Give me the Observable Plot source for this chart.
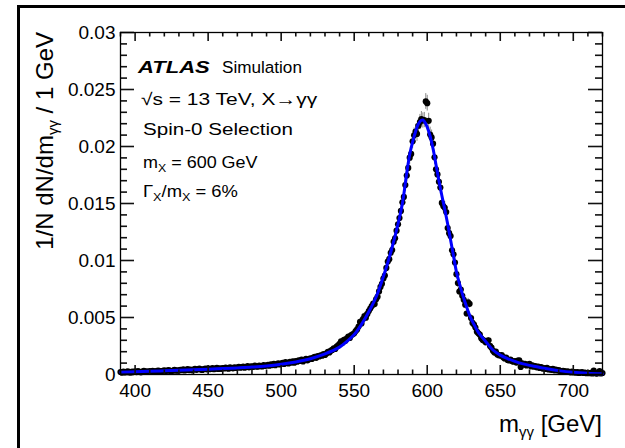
<!DOCTYPE html>
<html><head><meta charset="utf-8">
<script src="https://cdn.jsdelivr.net/npm/d3@7"></script>
<script src="https://cdn.jsdelivr.net/npm/@observablehq/plot@0.6"></script>
<style>
html,body{margin:0;padding:0;background:#fff;overflow:hidden;width:625px;height:448px}
#wrap{position:relative;width:625px;height:448px;overflow:hidden}
#frame{position:absolute;left:17px;top:5px;width:700px;height:600px;border:3px solid #000;box-sizing:border-box;pointer-events:none}
</style></head><body><div id="wrap"><div id="frame"></div></div>
<script>
// ---- data: normalised MC histogram, 1 GeV bins starting at 390 GeV ----
const binStart = 390;
const binValues = [
0.00022,0.00017,0.00025,0.00019,0.00023,0.00028,0.00020,0.00018,0.00026,0.00022,
0.00027,0.00021,0.00030,0.00024,0.00019,0.00026,0.00031,0.00023,0.00028,0.00022,
0.00030,0.00026,0.00033,0.00027,0.00024,0.00031,0.00035,0.00028,0.00025,0.00032,
0.00036,0.00030,0.00034,0.00039,0.00031,0.00028,0.00035,0.00040,0.00033,0.00036,
0.00034,0.00041,0.00038,0.00045,0.00036,0.00040,0.00047,0.00039,0.00042,0.00037,
0.00044,0.00049,0.00041,0.00046,0.00052,0.00043,0.00040,0.00048,0.00051,0.00045,
0.00053,0.00047,0.00050,0.00056,0.00046,0.00051,0.00058,0.00049,0.00054,0.00050,
0.00057,0.00053,0.00060,0.00055,0.00051,0.00062,0.00057,0.00054,0.00063,0.00058,
0.00061,0.00068,0.00059,0.00064,0.00070,0.00060,0.00066,0.00073,0.00063,0.00069,
0.00072,0.00066,0.00077,0.00070,0.00068,0.00079,0.00074,0.00071,0.00082,0.00076,
0.00079,0.00085,0.00077,0.00089,0.00083,0.00094,0.00081,0.00092,0.00098,0.00088,
0.00096,0.00103,0.00093,0.00108,0.00101,0.00097,0.00112,0.00105,0.00116,0.00103,
0.00118,0.00112,0.00125,0.00119,0.00131,0.00115,0.00127,0.00138,0.00124,0.00133,
0.00141,0.00136,0.00149,0.00155,0.00146,0.00162,0.00158,0.00169,0.00165,0.00178,
0.00172,0.00185,0.00198,0.00193,0.00209,0.00216,0.00229,0.00224,0.00245,0.00256,
0.00268,0.00291,0.00279,0.00305,0.00297,0.00318,0.00332,0.00321,0.00346,0.00352,
0.00362,0.00381,0.00395,0.00420,0.00461,0.00448,0.00486,0.00512,0.00498,0.00531,
0.00556,0.00579,0.00601,0.00622,0.00618,0.00659,0.00681,0.00729,0.00768,0.00795,
0.00842,0.00868,0.00935,0.00991,0.01012,0.01068,0.01092,0.01165,0.01195,0.01262,
0.01318,0.01372,0.01435,0.01510,0.01558,0.01662,0.01745,0.01812,0.01902,0.01935,
0.02045,0.02098,0.02130,0.02110,0.02182,0.02215,0.02240,0.02228,0.02232,0.02395,
0.02380,0.02225,0.02105,0.02080,0.02025,0.01905,0.01800,0.01755,0.01690,0.01640,
0.01505,0.01478,0.01462,0.01425,0.01285,0.01240,0.01215,0.01090,0.01055,0.00982,
0.00880,0.00802,0.00728,0.00745,0.00690,0.00655,0.00612,0.00535,0.00632,0.00620,
0.00495,0.00452,0.00438,0.00412,0.00376,0.00362,0.00349,0.00318,0.00302,0.00298,
0.00282,0.00296,0.00300,0.00251,0.00235,0.00208,0.00192,0.00201,0.00176,0.00169,
0.00166,0.00170,0.00152,0.00141,0.00149,0.00128,0.00123,0.00131,0.00118,0.00112,
0.00118,0.00105,0.00121,0.00124,0.00066,0.00098,0.00087,0.00093,0.00079,0.00085,
0.00094,0.00072,0.00081,0.00068,0.00074,0.00063,0.00070,0.00058,0.00066,0.00052,
0.00056,0.00049,0.00058,0.00044,0.00047,0.00041,0.00050,0.00037,0.00042,0.00035,
0.00038,0.00031,0.00026,0.00033,0.00029,0.00022,0.00027,0.00024,0.00019,0.00025,
0.00018,0.00022,0.00016,0.00020,0.00014,0.00017,0.00021,0.00013,0.00016,0.00012,
0.00015,0.00011,0.00014,0.00009,0.00035,0.00012,0.00008,0.00011,0.00030,0.00009,0.00013
];
// ---- fitted signal shape (blue curve) ----
const fitMass = [390,400,410,420,430,440,450,460,470,480,490,500,510,520,530,540,545,550,555,560,565,570,575,580,583,586,588,590,592,594,596,597,598,600,602,604,606,608,610,612,614,616,618,620,622,624,626,628,630,632,635,640,645,650,655,660,665,670,675,680,685,690,700,710,720];
const fitValue = [0.00020,0.00024,0.00028,0.00032,0.00037,0.00042,0.00047,0.00052,0.00058,0.00065,0.00075,0.00090,0.00110,0.00138,0.00180,0.00240,0.00290,0.00350,0.00440,0.00550,0.00680,0.00860,0.01070,0.01320,0.01500,0.01770,0.01930,0.02040,0.02130,0.02200,0.02230,0.02232,0.02220,0.02170,0.02090,0.01980,0.01840,0.01700,0.01570,0.01450,0.01320,0.01180,0.01040,0.00900,0.00800,0.00710,0.00630,0.00555,0.00490,0.00440,0.00370,0.00290,0.00215,0.00170,0.00140,0.00115,0.00095,0.00080,0.00068,0.00055,0.00044,0.00034,0.00020,0.00012,0.00007];
// ---- axes ----
const xDomain = [390, 720];
const yDomain = [0, 0.03];
const xMajor = [400,450,500,550,600,650,700];
const xLabels = ["400","450","500","550","600","650","700"];
const xMinor = [390,410,420,430,440,460,470,480,490,510,520,530,540,560,570,580,590,610,620,630,640,660,670,680,690,710,720];
const yMajor = [0,0.005,0.01,0.015,0.02,0.025,0.03];
const yLabels = ["0","0.005","0.01","0.015","0.02","0.025","0.03"];
const yMinor = [0.001,0.002,0.003,0.004,0.006,0.007,0.008,0.009,0.011,0.012,0.013,0.014,0.016,0.017,0.018,0.019,0.021,0.022,0.023,0.024,0.026,0.027,0.028,0.029];

const W = 625, H = 448, mL = 120, mR = 23, mT = 32, mB = 74;
const iW = W - mL - mR, iH = H - mT - mB;
const bins = binValues.map((v, i) => ({m: binStart + i, v, e: Math.sqrt(v * 2e-5)}));
const fit = fitMass.map((m, i) => ({m, v: fitValue[i]}));
const tickCol = "#111";
const tickW = 1.6;
// inward ticks on all four sides: tick length in pixels converted to data units
const yPerPx = (yDomain[1] - yDomain[0]) / iH;
const xPerPx = (xDomain[1] - xDomain[0]) / iW;
const tX = (vals, len) => [
  Plot.ruleX(vals, {x: d => d, y1: yDomain[0], y2: yDomain[0] + len * yPerPx, stroke: tickCol, strokeWidth: tickW}),
  Plot.ruleX(vals, {x: d => d, y1: yDomain[1] - len * yPerPx, y2: yDomain[1], stroke: tickCol, strokeWidth: tickW})
];
const tY = (vals, len) => [
  Plot.ruleY(vals, {y: d => d, x1: xDomain[0], x2: xDomain[0] + len * xPerPx, stroke: tickCol, strokeWidth: tickW}),
  Plot.ruleY(vals, {y: d => d, x1: xDomain[1] - len * xPerPx, x2: xDomain[1], stroke: tickCol, strokeWidth: tickW})
];

const chart = Plot.plot({
  width: W, height: H,
  marginLeft: mL, marginRight: mR, marginTop: mT, marginBottom: mB,
  x: {domain: xDomain},
  y: {domain: yDomain},
  style: {fontFamily: "'Liberation Sans', Arial, Helvetica, sans-serif", color: "#000"},
  marks: [
    Plot.ruleX(bins, {x: "m", y1: d => d.v - d.e, y2: d => d.v + d.e, stroke: "#8a8a8a", strokeWidth: 1}),
    Plot.dot(bins, {x: "m", y: "v", r: 3.1, fill: "#000", stroke: "none"}),
    Plot.line(fit, {x: "m", y: "v", stroke: "#0000ff", strokeWidth: 3, curve: "catmull-rom"}),
    Plot.axisY({anchor: "left", ticks: yMajor, tickSize: 0, tickPadding: 5, tickFormat: d => yLabels[yMajor.indexOf(d)], fontSize: 19, label: null}),
    Plot.axisX({anchor: "bottom", ticks: xMajor, tickSize: 0, tickPadding: 9, tickFormat: d => xLabels[xMajor.indexOf(d)], fontSize: 19, label: null}),
    ...tX(xMajor, 9), ...tX(xMinor, 4.5),
    ...tY(yMajor, 14), ...tY(yMinor, 7),
    Plot.frame({stroke: "#000", strokeWidth: 1.3})
  ]
});
document.getElementById("wrap").prepend(chart);

// ---- text: axis titles and annotations ----
const svg = d3.select(chart);
const ff = "'Liberation Sans', Arial, Helvetica, sans-serif";
function txt(x, y, size) {
  return svg.append("text").attr("font-family", ff).attr("font-size", size).attr("fill", "#000")
    .attr("text-anchor", "start").attr("transform", `translate(${x},${y})`);
}
function sub(t, s, size, shift) {
  t.append("tspan").attr("dy", shift).attr("font-size", size).text(s);
}
// stretch a text horizontally to the width it has in the figure
function fitW(t, x, y, width) {
  const w = t.node().getBBox().width;
  if (w > 0) t.attr("transform", `translate(${x},${y}) scale(${width / w},1)`);
}
// y title
const yt = svg.append("text").attr("font-family", ff).attr("font-size", 24).attr("fill", "#000")
  .attr("text-anchor", "end").attr("transform", "translate(53,32) rotate(-90)");
yt.append("tspan").text("1/N dN/dm");
sub(yt, "γγ", 15, 5);
yt.append("tspan").attr("dy", -5).text(" / 1 GeV");
// x title
const xt = svg.append("text").attr("font-family", ff).attr("font-size", 24).attr("fill", "#000")
  .attr("text-anchor", "end").attr("x", 602).attr("y", 432);
xt.append("tspan").text("m");
sub(xt, "γγ", 15, 5);
xt.append("tspan").attr("dy", -5).text(" [GeV]");
// annotations
const t1 = txt(138, 73, 17).attr("font-weight", "bold").attr("font-style", "italic").text("ATLAS");
fitW(t1, 138, 73, 74);
const t2 = txt(222, 73, 17).text("Simulation");
fitW(t2, 222, 73, 80);
const t3 = txt(141, 105, 17).text("√s = 13 TeV, X→γγ");
fitW(t3, 141, 105, 177);
const t4 = txt(143, 135, 17).text("Spin-0 Selection");
fitW(t4, 143, 135, 150);
const t5 = txt(143, 168, 16);
t5.append("tspan").text("m");
sub(t5, "X", 11, 4);
t5.append("tspan").attr("dy", -4).text(" = 600 GeV");
fitW(t5, 143, 168, 115);
const t6 = txt(143, 197, 16);
t6.append("tspan").text("Γ");
sub(t6, "X", 11, 4);
t6.append("tspan").attr("dy", -4).text("/m");
sub(t6, "X", 11, 4);
t6.append("tspan").attr("dy", -4).text(" = 6%");
fitW(t6, 143, 197, 95);
</script>
</body></html>
